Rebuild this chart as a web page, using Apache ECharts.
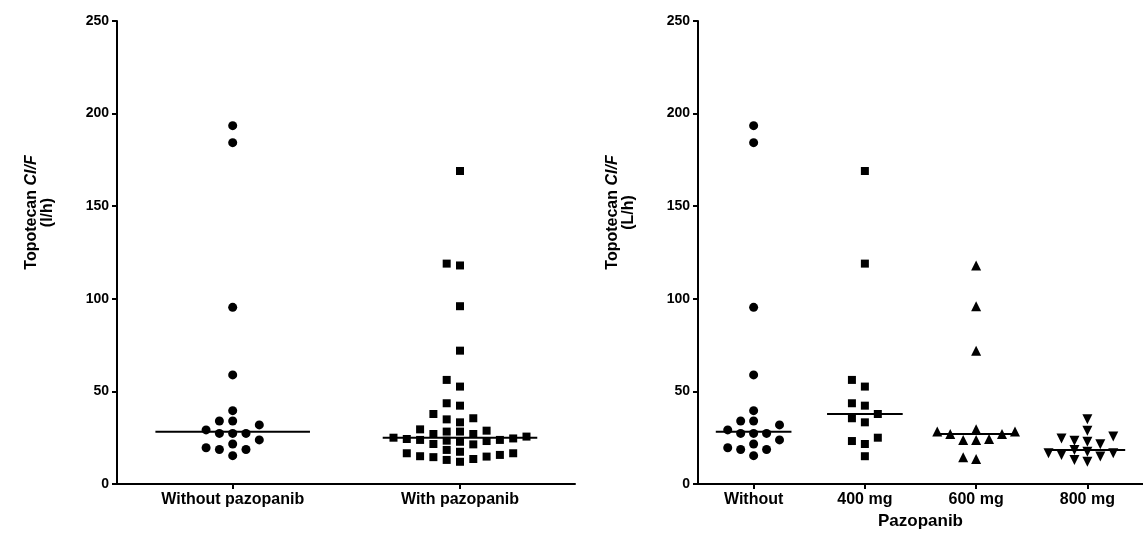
<!DOCTYPE html>
<html>
<head>
<meta charset="utf-8">
<script src="https://cdn.jsdelivr.net/npm/echarts@6/dist/echarts.min.js"></script>
<style>
  html, body { margin: 0; padding: 0; background: #fff; }
  #chart { width: 1143px; height: 535px; }
</style>
</head>
<body>
<div id="chart"></div>
<script>
// Topotecan apparent clearance (Cl/F) per patient
const leftCategories = ['Without pazopanib', 'With pazopanib'];
const rightCategories = ['Without', '400 mg', '600 mg', '800 mg'];
const yTicks = [0, 50, 100, 150, 200, 250];

const withoutPazopanib = [193.5, 184.3, 95.4, 58.9, 39.6, 34.0, 34.0, 31.9, 27.3, 27.3, 27.3, 29.2, 23.8, 21.6, 18.6, 18.6, 19.6, 15.3];
const dose400 = [169.0, 119.0, 56.2, 52.6, 43.6, 42.3, 37.8, 35.5, 33.3, 25.0, 23.2, 21.6, 15.0];
const dose600 = [118.0, 96.0, 72.0, 29.5, 28.3, 28.3, 27.0, 27.0, 24.3, 23.8, 23.8, 14.5, 13.5];
const dose800 = [34.9, 28.8, 25.6, 24.6, 23.4, 22.8, 21.4, 18.4, 17.4, 16.6, 16.6, 15.7, 14.8, 13.0, 12.0];
// all treated patients pooled
const withPazopanib = [...dose400, ...dose600, ...dose800];

// ---- layout ----
const FONT = '"Liberation Sans", Arial, Helvetica, sans-serif';
const PLOT_TOP = 21, PLOT_H = 463;
const leftGrid = { left: 117, top: PLOT_TOP, width: 458, height: PLOT_H };
const rightGrid = { left: 698, top: PLOT_TOP, width: 457, height: PLOT_H };
const leftX = { min: -0.509, max: 1.506 };
const rightX = { min: -0.5, max: 3.5 };
const yPx = PLOT_H / 250;
const leftUnitPx = leftGrid.width / (leftX.max - leftX.min);
const rightUnitPx = rightGrid.width / (rightX.max - rightX.min);
const COL_PX = 13.3;   // horizontal spacing of swarm columns

function median(arr) {
  const s = [...arr].sort((a, b) => a - b);
  const n = s.length;
  return n % 2 ? s[(n - 1) / 2] : (s[n / 2 - 1] + s[n / 2]) / 2;
}

// Column dot-plot layout: each point goes to the nearest free column (0, -1, +1, -2, +2 ...)
function swarm(values, center, unitPx, gapPx) {
  const step = COL_PX / unitPx;
  const cols = {};
  const out = [];
  [...values].sort((a, b) => a - b).forEach(v => {
    const y = v * yPx;
    for (let k = 0; ; k++) {
      const c = k === 0 ? 0 : (k % 2 ? -(k + 1) / 2 : k / 2);
      const list = cols[c] || (cols[c] = []);
      if (list.every(p => Math.abs(p - y) >= gapPx)) {
        list.push(y);
        out.push([center + c * step, v]);
        break;
      }
    }
  });
  return out;
}

function medianLine(values, center, gridIndex) {
  const m = median(values);
  return {
    type: 'line', xAxisIndex: gridIndex, yAxisIndex: gridIndex,
    data: [[center - 0.34, m], [center + 0.34, m]],
    symbol: 'none', silent: true, z: 3,
    lineStyle: { color: '#000', width: 2 }
  };
}

function dots(values, center, gridIndex, unitPx, symbol, size, rotate, gap) {
  return {
    type: 'scatter', xAxisIndex: gridIndex, yAxisIndex: gridIndex,
    data: swarm(values, center, unitPx, gap),
    symbol: symbol, symbolSize: size, symbolRotate: rotate || 0,
    itemStyle: { color: '#000', opacity: 1 }, z: 4
  };
}

const tickStyle = { show: true, length: 5, lineStyle: { color: '#000', width: 2 } };
const boldText = { color: '#000', fontFamily: FONT, fontWeight: 'bold' };

function yAxis(gridIndex, unitText) {
  return {
    type: 'value', gridIndex: gridIndex, min: 0, max: 250, interval: 50,
    axisLine: { show: true, onZero: false, lineStyle: { color: '#000', width: 2 } },
    axisTick: tickStyle, splitLine: { show: false },
    axisLabel: Object.assign({ margin: 8, fontSize: 14, customValues: yTicks }, boldText),
    name: '{n|Topotecan }{i|Cl/F}\n{n|(' + unitText + ')}',
    nameLocation: 'middle', nameGap: 61,
    nameTextStyle: {
      padding: [0, 0, 0, 80],
      lineHeight: 16,
      rich: {
        n: Object.assign({ fontSize: 16, lineHeight: 16 }, boldText),
        i: Object.assign({ fontSize: 16, lineHeight: 16, fontStyle: 'italic' }, boldText)
      }
    }
  };
}

function xAxis(gridIndex, range, cats, name) {
  const ticks = cats.map((_, i) => i);
  return {
    type: 'value', gridIndex: gridIndex, min: range.min, max: range.max,
    axisLine: { show: true, onZero: false, lineStyle: { color: '#000', width: 2 } },
    axisTick: Object.assign({ customValues: ticks }, tickStyle),
    splitLine: { show: false },
    axisLabel: Object.assign({
      margin: 8, fontSize: 16, customValues: ticks,
      formatter: v => cats[Math.round(v)]
    }, boldText),
    name: name || '', nameLocation: 'middle', nameGap: 28,
    nameTextStyle: Object.assign({ fontSize: 17 }, boldText)
  };
}

const chart = echarts.init(document.getElementById('chart'), null, { renderer: 'canvas' });
chart.setOption({
  backgroundColor: '#fff',
  animation: false,
  grid: [leftGrid, rightGrid],
  xAxis: [xAxis(0, leftX, leftCategories), xAxis(1, rightX, rightCategories, 'Pazopanib')],
  yAxis: [yAxis(0, 'l/h'), yAxis(1, 'L/h')],
  series: [
    medianLine(withoutPazopanib, 0, 0),
    medianLine(withPazopanib, 1, 0),
    dots(withoutPazopanib, 0, 0, leftUnitPx, 'circle', 9, 0, 10),
    dots(withPazopanib, 1, 0, leftUnitPx, 'rect', 8, 0, 9),

    medianLine(withoutPazopanib, 0, 1),
    medianLine(dose400, 1, 1),
    medianLine(dose600, 2, 1),
    medianLine(dose800, 3, 1),
    dots(withoutPazopanib, 0, 1, rightUnitPx, 'circle', 9, 0, 10),
    dots(dose400, 1, 1, rightUnitPx, 'rect', 8, 0, 9),
    dots(dose600, 2, 1, rightUnitPx, 'triangle', 10, 0, 9),
    dots(dose800, 3, 1, rightUnitPx, 'triangle', 10, 180, 9)
  ]
});
</script>
</body>
</html>
